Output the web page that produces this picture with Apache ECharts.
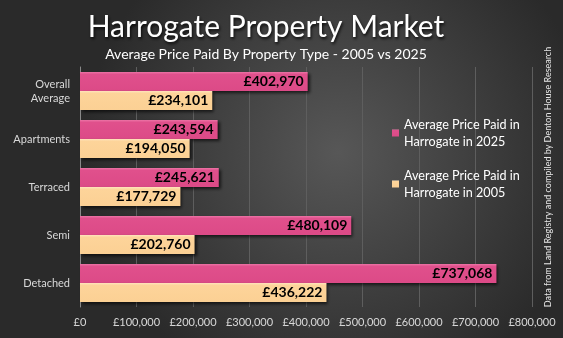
<!DOCTYPE html>
<html>
<head>
<meta charset="utf-8">
<script src="https://cdn.jsdelivr.net/npm/echarts@6/dist/echarts.min.js"></script>
<style>
  html, body { margin: 0; padding: 0; background: #333; }
  #chart { width: 563px; height: 338px; }
</style>
</head>
<body>
<div id="chart"></div>
<script>
// Property types, listed top to bottom
const categories = ['Overall\nAverage', 'Apartments', 'Terraced', 'Semi', 'Detached'];
// Average price paid (GBP)
const price2025 = [402970, 243594, 245621, 480109, 737068];
const price2005 = [234101, 194050, 177729, 202760, 436222];
const seriesNames = ['Average Price Paid in\nHarrogate in 2025', 'Average Price Paid in\nHarrogate in 2005'];
const xTicks = { min: 0, max: 800000, interval: 100000 };

const FONT = 'Lato, "Open Sans", sans-serif';
const money = v => '£' + Number(v).toLocaleString('en-GB');

const chart = echarts.init(document.getElementById('chart'), null, { renderer: 'canvas' });

const barShadow = {
  shadowColor: 'rgba(0,0,0,0.65)',
  shadowBlur: 3,
  shadowOffsetX: 2,
  shadowOffsetY: 2
};

chart.setOption({
  animation: false,
  backgroundColor: {
    type: 'radial', x: 0.6, y: 0.45, r: 0.75,
    colorStops: [
      { offset: 0, color: '#575757' },
      { offset: 1, color: '#2a2a2a' }
    ]
  },
  title: [
    {
      text: 'Harrogate Property Market',
      left: 261, textAlign: 'center', top: 7,
      textStyle: {
        fontFamily: FONT, fontSize: 30, fontWeight: 'normal', color: '#ffffff',
        textShadowColor: 'rgba(0,0,0,0.8)', textShadowBlur: 3,
        textShadowOffsetX: 1, textShadowOffsetY: 2
      }
    },
    {
      text: 'Average Price Paid By Property Type - 2005 vs 2025',
      left: 261, textAlign: 'center', top: 42,
      textStyle: { fontFamily: FONT, fontSize: 14, fontWeight: 'normal', color: '#ffffff' }
    }
  ],
  graphic: [{
    type: 'text',
    x: 548, y: 177, rotation: Math.PI / 2,
    style: {
      text: 'Data from Land Registry and compiled by Denton House Research',
      fill: '#e6e6e6', font: '9px ' + FONT,
      textAlign: 'center', textVerticalAlign: 'middle'
    }
  }],
  legend: {
    orient: 'vertical',
    left: 387, top: 111,
    itemWidth: 7, itemHeight: 7, itemGap: 17,
    icon: 'rect',
    textStyle: { fontFamily: FONT, fontSize: 12.6, color: '#ffffff', lineHeight: 17 },
    data: seriesNames
  },
  grid: { left: 80, right: 31, top: 67, bottom: 31, containLabel: false },
  xAxis: {
    type: 'value',
    min: xTicks.min, max: xTicks.max, interval: xTicks.interval,
    axisLine: { show: false },
    axisTick: { show: false },
    splitLine: { show: true, lineStyle: { color: '#5e5e5e', width: 1 } },
    axisLabel: {
      formatter: money, color: '#d9d9d9', fontFamily: FONT, fontSize: 11, margin: 10
    }
  },
  yAxis: {
    type: 'category',
    inverse: true,
    data: categories,
    axisLine: { show: true, lineStyle: { color: '#8a8a8a', width: 1 } },
    axisTick: { show: false },
    axisLabel: {
      color: '#d9d9d9', fontFamily: FONT, fontSize: 11, margin: 10,
      align: 'right', lineHeight: 14
    }
  },
  series: [
    {
      name: seriesNames[0], type: 'bar', data: price2025,
      barGap: '0%', barCategoryGap: '21%',
      itemStyle: Object.assign({
        color: { type: 'linear', x: 0, y: 0, x2: 0, y2: 1,
          colorStops: [{ offset: 0, color: '#ec74a6' }, { offset: 0.12, color: '#e0508c' }, { offset: 1, color: '#dc4a87' }] }
      }, barShadow),
      label: {
        show: true, position: 'insideRight', distance: 4,
        formatter: p => money(p.value),
        color: '#000000', fontFamily: FONT, fontWeight: 'bold', fontSize: 14
      }
    },
    {
      name: seriesNames[1], type: 'bar', data: price2005,
      barGap: '0%', barCategoryGap: '21%',
      itemStyle: Object.assign({
        color: { type: 'linear', x: 0, y: 0, x2: 0, y2: 1,
          colorStops: [{ offset: 0, color: '#ffe4bd' }, { offset: 0.12, color: '#fdd49a' }, { offset: 1, color: '#fbd094' }] }
      }, barShadow),
      label: {
        show: true, position: 'insideRight', distance: 4,
        formatter: p => money(p.value),
        color: '#000000', fontFamily: FONT, fontWeight: 'bold', fontSize: 14
      }
    }
  ]
});
</script>
</body>
</html>
